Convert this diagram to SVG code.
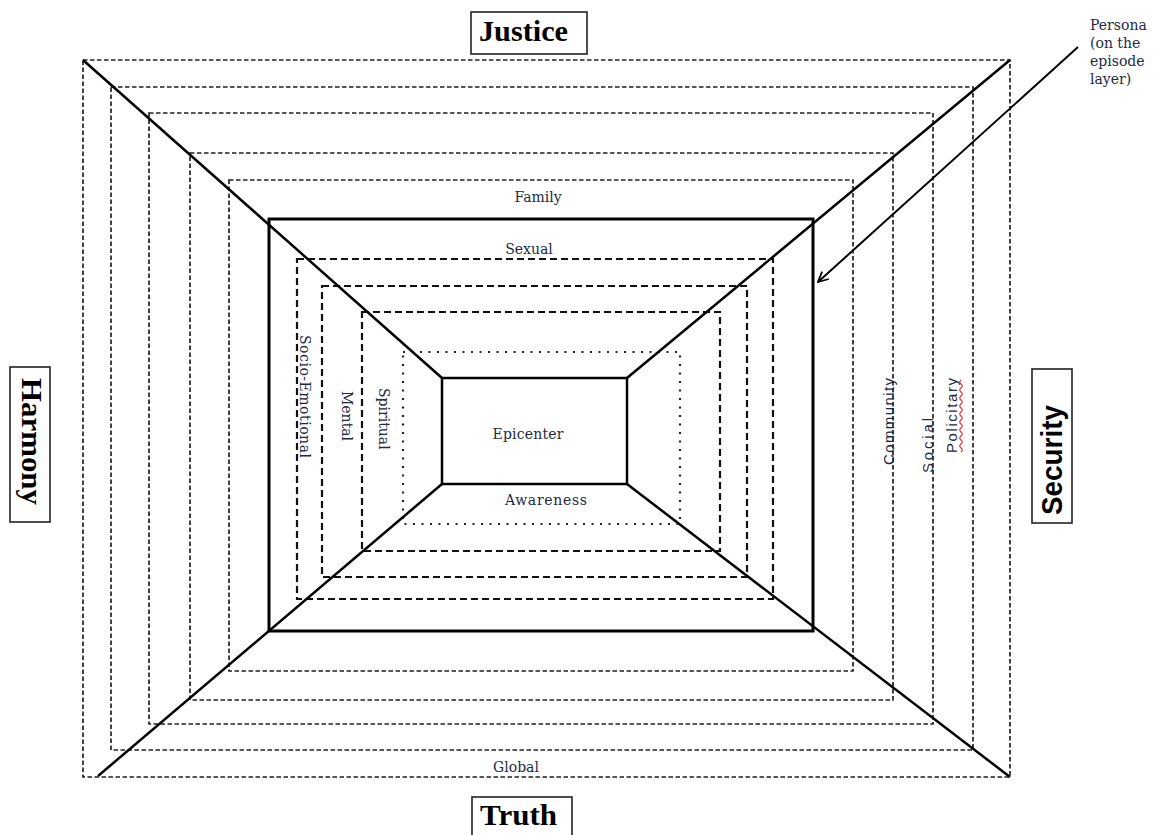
<svg xmlns="http://www.w3.org/2000/svg" width="1153" height="835" viewBox="0 0 1153 835">
<defs>
<style>
.bg{fill:#ffffff}
.d1{fill:none;stroke:#222;stroke-width:1.7;stroke-dasharray:4.5 2.5}
.d2{fill:none;stroke:#111;stroke-width:2.2;stroke-dasharray:7 4}
.dot{fill:none;stroke:#222;stroke-width:2.2;stroke-dasharray:2 6.5}
.solid{fill:none;stroke:#000;stroke-width:3}
.diag{fill:none;stroke:#000;stroke-width:2.5}
.box{fill:#fff;stroke:#222;stroke-width:1.6}
.lbl{font-family:"DejaVu Serif","Liberation Serif",serif;font-size:14px;fill:#1c2a44}
.sans{font-family:"Liberation Sans",Arial,sans-serif;font-size:15px;fill:#1c2a44}
.title{font-family:"Liberation Serif","Times New Roman",serif;font-size:30px;font-weight:bold;fill:#000}
.titles{font-family:"Liberation Sans",Arial,sans-serif;font-size:30px;font-weight:bold;fill:#000}
.persona{font-family:"DejaVu Serif","Liberation Serif",serif;font-size:14px;fill:#1c2a44}
</style>
<marker id="arr" viewBox="0 0 12 12" refX="11" refY="6" markerWidth="12" markerHeight="12" markerUnits="userSpaceOnUse" orient="auto">
<path d="M1,1 L11,6 L1,11" fill="none" stroke="#000" stroke-width="1.8"/>
</marker>
</defs>
<rect class="bg" x="0" y="0" width="1153" height="835"/>

<g id="global"><rect class="d1" x="83" y="60" width="927" height="717"/><text class="lbl" x="516" y="772" text-anchor="middle">Global</text></g>
<g id="policitary"><rect class="d1" x="111" y="87" width="862" height="663"/><text class="sans" transform="translate(957,453) rotate(-90)" textLength="75" lengthAdjust="spacing">Policitary</text><path d="M961,452 q2.5,-2 0,-4 q-2.5,-2 0,-4 q2.5,-2 0,-4 q-2.5,-2 0,-4 q2.5,-2 0,-4 q-2.5,-2 0,-4 q2.5,-2 0,-4 q-2.5,-2 0,-4 q2.5,-2 0,-4 q-2.5,-2 0,-4 q2.5,-2 0,-4 q-2.5,-2 0,-4 q2.5,-2 0,-4 q-2.5,-2 0,-4 q2.5,-2 0,-4 q-2.5,-2 0,-4 q2.5,-2 0,-4 q-2.5,-2 0,-4" fill="none" stroke="#e03030" stroke-width="1.2"/></g>
<g id="social"><rect class="d1" x="149" y="113" width="784" height="611"/><text class="sans" transform="translate(933,473) rotate(-90)" textLength="55" lengthAdjust="spacing">Social</text></g>
<g id="community"><rect class="d1" x="190" y="153" width="703" height="547"/><text class="sans" transform="translate(894,465) rotate(-90)" textLength="87" lengthAdjust="spacing">Community</text></g>
<g id="family"><rect class="d1" x="229" y="180" width="624" height="491"/><text class="lbl" x="538" y="202" text-anchor="middle">Family</text></g>
<g id="persona-layer"><rect class="solid" x="269" y="219" width="544" height="412"/></g>
<g id="sexual"><rect class="d2" x="297" y="259" width="476" height="340"/><text class="lbl" x="529" y="254" text-anchor="middle">Sexual</text></g>
<g id="socio-emotional"><rect class="d2" x="322" y="286" width="425" height="291"/><text class="lbl" transform="translate(300,335) rotate(90)" textLength="123" lengthAdjust="spacing">Socio-Emotional</text></g>
<g id="mental"><rect class="d2" x="362" y="312" width="358" height="239"/><text class="lbl" transform="translate(342,391) rotate(90)">Mental</text></g>
<g id="spiritual"><rect class="dot" x="403" y="352" width="277" height="172"/><text class="lbl" transform="translate(379,388) rotate(90)">Spiritual</text></g>
<g id="awareness"><text class="lbl" x="546" y="505" text-anchor="middle" textLength="82" lengthAdjust="spacing">Awareness</text></g>

<g id="connectors">
<line class="diag" x1="83" y1="60" x2="442" y2="378"/>
<line class="diag" x1="1010" y1="60" x2="627" y2="378"/>
<line class="diag" x1="98" y1="776" x2="442" y2="484"/>
<line class="diag" x1="627" y1="484" x2="1010" y2="777"/>
<line x1="1078" y1="47" x2="818" y2="282" stroke="#000" stroke-width="2" marker-end="url(#arr)"/>
</g>

<g id="epicenter"><rect x="442" y="378" width="185" height="106" fill="#fff" stroke="#000" stroke-width="2.5"/><text class="lbl" x="528" y="439" text-anchor="middle" textLength="71" lengthAdjust="spacing">Epicenter</text></g>

<g id="persona-note">
<text class="persona" x="1090" y="30">Persona</text>
<text class="persona" x="1090" y="48">(on the</text>
<text class="persona" x="1090" y="66">episode</text>
<text class="persona" x="1090" y="84">layer)</text>
</g>

<g id="justice"><rect class="box" x="471" y="12" width="116" height="42"/><text class="title" x="479" y="41" textLength="89" lengthAdjust="spacingAndGlyphs">Justice</text></g>
<g id="truth"><rect class="box" x="472" y="797" width="100" height="50"/><text class="title" x="480" y="825" textLength="77" lengthAdjust="spacingAndGlyphs">Truth</text></g>
<g id="harmony"><rect class="box" x="10" y="367" width="40" height="155"/><text class="title" transform="translate(22,378) rotate(90)" textLength="127" lengthAdjust="spacingAndGlyphs">Harmony</text></g>
<g id="security"><rect class="box" x="1032" y="369" width="40" height="154"/><text class="titles" transform="translate(1062,515) rotate(-90)" textLength="110" lengthAdjust="spacingAndGlyphs">Security</text></g>
</svg>
